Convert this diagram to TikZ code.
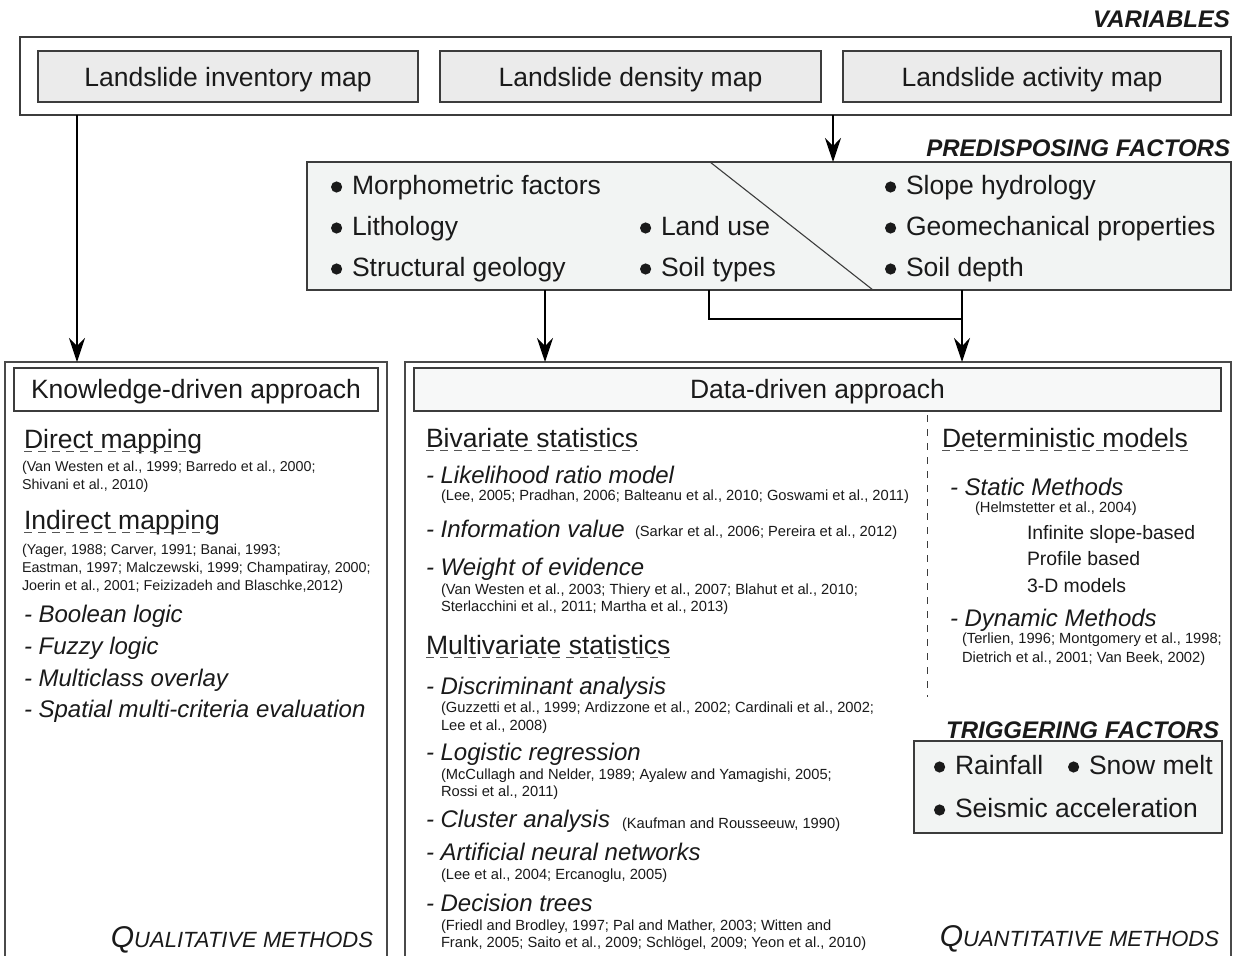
\documentclass[tikz,border=0pt]{standalone}
\usepackage{fontspec}
\setmainfont{Liberation Sans}
\usetikzlibrary{arrows.meta,calc}
\definecolor{bcol}{HTML}{3C3C3C}
\definecolor{pcol}{HTML}{4A4A4A}
\definecolor{varfill}{HTML}{EBEBEB}
\definecolor{predfill}{HTML}{F2F4F3}
\definecolor{titfill}{HTML}{F7F8F8}
\definecolor{txt}{HTML}{1A1A1A}
\definecolor{ulcol}{HTML}{555555}
\newcommand\bul{\makebox[21pt][l]{\tikz[baseline=0pt]\fill[txt] (5.6pt,7pt) circle (5.6pt);}}
\begin{document}
\begin{tikzpicture}[x=1pt,y=-1pt,
  every node/.style={inner sep=0pt, outer sep=0pt, text=txt},
  frame/.style={draw=bcol, line width=1.2pt, rectangle},
  panel/.style={draw=pcol, line width=1.9pt, rectangle},
  big/.style={font=\fontsize{26.5}{30}\selectfont, anchor=base west},
  bigc/.style={font=\fontsize{26.5}{30}\selectfont, anchor=base},
  itm/.style={font=\fontsize{24}{28}\selectfont\itshape, anchor=base west},
  cite/.style={font=\fontsize{14.7}{18}\selectfont, anchor=base west},
  lcite/.style={font=\fontsize{14.3}{18}\selectfont, anchor=base west},
  mid/.style={font=\fontsize{19.4}{23}\selectfont, anchor=base west},
  hdr/.style={font=\fontsize{24}{28}\selectfont\bfseries\itshape, anchor=base east},
  meth/.style={font=\itshape, anchor=base east},
  ul/.style={draw=ulcol, line width=0.9pt, dash pattern=on 8pt off 6pt},
  sepline/.style={draw=bcol, line width=1pt, dash pattern=on 7pt off 7pt},
  conn/.style={draw=black, line width=1.2pt},
  arr/.style={conn, -{Stealth[length=24pt,width=16pt,inset=8pt]}}
]
\useasboundingbox (0,0) rectangle (1235,956);
\fill[white] (0,0) rectangle (1235,956);

% ---------- VARIABLES ----------
\node[hdr] (varh) at (1230,27) {VARIABLES};
\node[frame, fill=white, minimum width=1211, minimum height=78] (var) at (625.5,76) {};
\node[frame, fill=varfill, minimum width=380, minimum height=51] (inv) at (228,76.5) {};
\node[frame, fill=varfill, minimum width=381, minimum height=51] (den) at (630.5,76.5) {};
\node[frame, fill=varfill, minimum width=378, minimum height=51] (act) at (1032,76.5) {};
\node[bigc] (invt) at (228,86) {Landslide inventory map};
\node[bigc] (dent) at (630.5,86) {Landslide density map};
\node[bigc] (actt) at (1032,86) {Landslide activity map};

% ---------- PREDISPOSING FACTORS ----------
\node[hdr] (predh) at (1230,156) {PREDISPOSING FACTORS};
\node[frame, fill=predfill, minimum width=924, minimum height=128] (pred) at (769,226) {};
\coordinate (d1) at (710,0);
\coordinate (d2) at (873,0);
\draw[draw=bcol, line width=1.1pt] (pred.north -| d1) -- (pred.south -| d2);
\node[big] (p1) at (331,194) {\bul Morphometric factors};
\node[big] (p2) at (331,235) {\bul Lithology};
\node[big] (p3) at (331,276) {\bul Structural geology};
\node[big] (p4) at (640,235) {\bul Land use};
\node[big] (p5) at (640,276) {\bul Soil types};
\node[big] (p6) at (885,194) {\bul Slope hydrology};
\node[big] (p7) at (885,235) {\bul Geomechanical properties};
\node[big] (p8) at (885,276) {\bul Soil depth};

% ---------- PANELS ----------
\node[panel, minimum width=382, minimum height=610] (kpanel) at (196,667) {};
\node[panel, minimum width=826, minimum height=610] (dpanel) at (818,667) {};
\node[frame, fill=white, minimum width=364, minimum height=43] (ktitle) at (196,389.5) {};
\node[frame, fill=titfill, minimum width=807, minimum height=43] (dtitle) at (817.5,389.5) {};
\node[bigc] (ktt) at (196,398) {Knowledge-driven approach};
\node[bigc] (dtt) at (817.5,398) {Data-driven approach};

% ---------- CONNECTORS ----------
\coordinate (kx) at (77,0);
\coordinate (dx) at (833,0);
\coordinate (lx) at (545,0);
\coordinate (rx) at (962,0);
\coordinate (bx) at (709,319);
\draw[arr] (var.south -| kx) -- (kpanel.north -| kx);
\draw[arr] (var.south -| dx) -- (pred.north -| dx);
\draw[arr] (pred.south -| lx) -- (dpanel.north -| lx);
\draw[arr] (pred.south -| rx) -- (dpanel.north -| rx);
\draw[conn] (pred.south -| bx) -- (bx) -- (bx -| rx);

% ---------- LEFT PANEL ----------
\node[big] (dm) at (24,448) {Direct mapping};
\draw[ul] ([yshift=-3pt]dm.base west) -- ([yshift=-3pt]dm.base east);
\node[lcite] (dmc1) at (22,471) {(Van Westen et al., 1999; Barredo et al., 2000;};
\node[lcite] (dmc2) at (22,489) {Shivani et al., 2010)};
\node[big] (im) at (24,529) {Indirect mapping};
\draw[ul] ([yshift=-3pt]im.base west) -- ([yshift=-3pt]im.base east);
\node[lcite] (imc1) at (22,554) {(Yager, 1988; Carver, 1991; Banai, 1993;};
\node[lcite] (imc2) at (22,572) {Eastman, 1997; Malczewski, 1999; Champatiray, 2000;};
\node[lcite] (imc3) at (22,590) {Joerin et al., 2001; Feizizadeh and Blaschke,2012)};
\node[itm] (k1) at (24,622) {- Boolean logic};
\node[itm] (k2) at (24,654) {- Fuzzy logic};
\node[itm] (k3) at (24,686) {- Multiclass overlay};
\node[itm] (k4) at (24,717) {- Spatial multi-criteria evaluation};
\node[meth] (qual) at (373,947) {{\fontsize{30}{34}\selectfont Q}{\fontsize{22}{26}\selectfont UALITATIVE METHODS}};

% ---------- MIDDLE COLUMN ----------
\node[big] (bs) at (426,447) {Bivariate statistics};
\draw[ul] ([yshift=-3pt]bs.base west) -- ([yshift=-3pt]bs.base east);
\node[itm] (b1) at (426,483) {- Likelihood ratio model};
\node[cite] (b1c) at (441,500) {(Lee, 2005; Pradhan, 2006; Balteanu et al., 2010; Goswami et al., 2011)};
\node[itm] (b2) at (426,537) {- Information value};
\node[cite] (b2c) at (635,536) {(Sarkar et al., 2006; Pereira et al., 2012)};
\node[itm] (b3) at (426,575) {- Weight of evidence};
\node[cite] (b3c1) at (441,594) {(Van Westen et al., 2003; Thiery et al., 2007; Blahut et al., 2010;};
\node[cite] (b3c2) at (441,611) {Sterlacchini et al., 2011; Martha et al., 2013)};
\node[big] (ms) at (426,654) {Multivariate statistics};
\draw[ul] ([yshift=-3pt]ms.base west) -- ([yshift=-3pt]ms.base east);
\node[itm] (m1) at (426,694) {- Discriminant analysis};
\node[cite] (m1c1) at (441,712) {(Guzzetti et al., 1999; Ardizzone et al., 2002; Cardinali et al., 2002;};
\node[cite] (m1c2) at (441,730) {Lee et al., 2008)};
\node[itm] (m2) at (426,760) {- Logistic regression};
\node[cite] (m2c1) at (441,779) {(McCullagh and Nelder, 1989; Ayalew and Yamagishi, 2005;};
\node[cite] (m2c2) at (441,796) {Rossi et al., 2011)};
\node[itm] (m3) at (426,827) {- Cluster analysis};
\node[cite] (m3c) at (622,828) {(Kaufman and Rousseeuw, 1990)};
\node[itm] (m4) at (426,860) {- Artificial neural networks};
\node[cite] (m4c) at (441,879) {(Lee et al., 2004; Ercanoglu, 2005)};
\node[itm] (m5) at (426,911) {- Decision trees};
\node[cite] (m5c1) at (441,930) {(Friedl and Brodley, 1997; Pal and Mather, 2003; Witten and};
\node[cite] (m5c2) at (441,947) {Frank, 2005; Saito et al., 2009; Schlögel, 2009; Yeon et al., 2010)};

% ---------- SEPARATOR ----------
\coordinate (s1) at (927,415);
\coordinate (s2) at (927,697);
\draw[sepline] (s1) -- (s2);

% ---------- RIGHT COLUMN ----------
\node[big] (dmod) at (942,447) {Deterministic models};
\draw[ul] ([yshift=-3pt]dmod.base west) -- ([yshift=-3pt]dmod.base east);
\node[itm] (r1) at (950,495) {- Static Methods};
\node[cite] (r1c) at (975,512) {(Helmstetter et al., 2004)};
\node[mid] (r1a) at (1027,539) {Infinite slope-based};
\node[mid] (r1b) at (1027,565) {Profile based};
\node[mid] (r1d) at (1027,592) {3-D models};
\node[itm] (r2) at (950,626) {- Dynamic Methods};
\node[cite] (r2c1) at (962,643) {(Terlien, 1996; Montgomery et al., 1998;};
\node[cite] (r2c2) at (962,662) {Dietrich et al., 2001; Van Beek, 2002)};

% ---------- TRIGGERING FACTORS ----------
\node[hdr] (trigh) at (1219,738) {TRIGGERING FACTORS};
\node[frame, fill=predfill, minimum width=308, minimum height=92] (trig) at (1068,787) {};
\node[big] (t1) at (934,774) {\bul Rainfall};
\node[big] (t2) at (1068,774) {\bul Snow melt};
\node[big] (t3) at (934,817) {\bul Seismic acceleration};

\node[meth] (quan) at (1219,946) {{\fontsize{30}{34}\selectfont Q}{\fontsize{22}{26}\selectfont UANTITATIVE METHODS}};
\end{tikzpicture}
\end{document}
